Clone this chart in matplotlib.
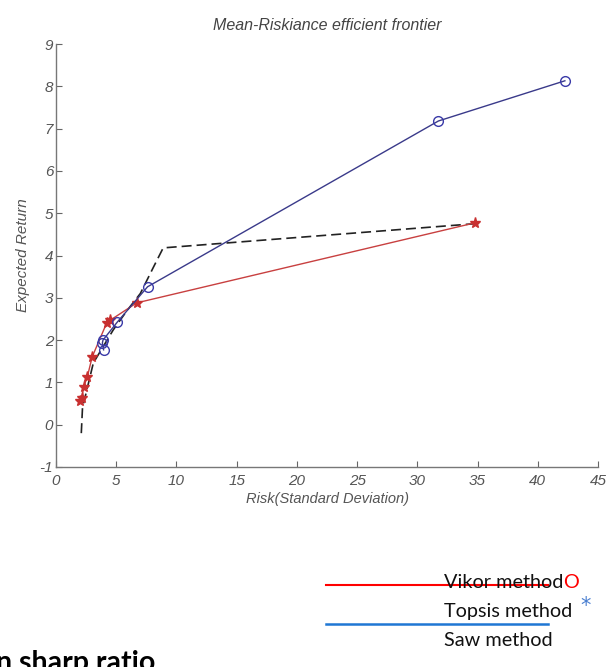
import matplotlib
matplotlib.use("Agg")
import matplotlib.pyplot as plt

# Data
blue_x = [3.95, 3.85, 3.9, 5.1, 7.6, 31.75, 42.25]
blue_y = [1.77, 1.93, 2.0, 2.43, 3.26, 7.18, 8.13]

red_x = [2.0, 2.15, 2.3, 2.6, 3.0, 4.2, 4.5, 6.7, 34.75]
red_y = [0.55, 0.63, 0.9, 1.13, 1.6, 2.4, 2.47, 2.88, 4.77]

black_x = [2.1, 2.2, 3.1, 4.75, 5.9, 7.0, 8.1, 8.9, 34.7]
black_y = [-0.2, 0.4, 1.46, 2.24, 2.7, 3.1, 3.73, 4.18, 4.75]

x_ticks = [0, 5, 10, 15, 20, 25, 30, 35, 40, 45]
y_ticks = [-1, 0, 1, 2, 3, 4, 5, 6, 7, 8, 9]

title = "Mean-Riskiance efficient frontier"
xlabel = "Risk(Standard Deviation)"
ylabel = "Expected Return"
legend_labels = ["Vikor method", "Topsis method", "Saw method"]
footer = "n sharp ratio"

fig = plt.figure(figsize=(6.06, 6.67), dpi=100)
ax = fig.add_axes([56/606, 1-467/667, (598-56)/606, (467-44)/667])

ax.plot(black_x, black_y, '--', color='#222222', lw=1.2, dashes=(6, 3))
ax.plot(red_x, red_y, '-', color='#c84040', lw=1.0, marker='*', ms=8,
        mfc='#c83030', mec='#c83030')
ax.plot(blue_x, blue_y, '-', color='#3a3a8a', lw=1.0, marker='o', ms=7,
        mfc='none', mec='#3a3aa8', mew=1.0)

ax.set_xlim(0, 45)
ax.set_ylim(-1, 9)
ax.set_xticks(x_ticks)
ax.set_yticks(y_ticks)
tick_fam = ['Liberation Sans Narrow', 'Liberation Sans']
tick_font = dict(family=tick_fam, style='italic', size=11, color='#555555')
ax.set_xticklabels([str(t) for t in x_ticks], **tick_font)
ax.set_yticklabels([str(t) for t in y_ticks], **tick_font)
ax.tick_params(direction='in', length=4, color='#666666', width=0.8)
ax.tick_params(axis='x', pad=5)
ax.tick_params(axis='y', pad=2)
for s in ['top', 'right']:
    ax.spines[s].set_visible(False)
for s in ['left', 'bottom']:
    ax.spines[s].set_color('#777777')
    ax.spines[s].set_linewidth(1.0)

ax.set_title(title, pad=10, family='Liberation Sans', style='italic', size=11.5, color='#444444')
ax.set_xlabel(xlabel, labelpad=3, family='Liberation Sans', style='italic', size=10.5, color='#555555')
ax.set_ylabel(ylabel, labelpad=7, family='Liberation Sans', style='italic', size=11, color='#555555')

# Legend-like annotations below
def fx(px): return px/606
def fy(py): return 1 - py/667

fig.add_artist(plt.Line2D([fx(326), fx(548)], [fy(585), fy(585)], color='#ff0000', lw=1.5))
fig.add_artist(plt.Line2D([fx(326), fx(548)], [fy(624), fy(624)], color='#1f77d4', lw=1.8))
leg_font = dict(family='Lato', size=14.3, color='#111111', va='baseline', ha='left')
fig.text(fx(444), fy(588), legend_labels[0], **leg_font)
fig.text(fx(563), fy(588), "O", family='Lato', size=14.3, color='#ff0000', va='baseline', ha='left')
fig.text(fx(444), fy(617), legend_labels[1], **leg_font)
fig.text(fx(586), fy(606), "*", family='DejaVu Sans', size=15, color='#4a7fd0', va='center', ha='center')
fig.text(fx(444), fy(646), legend_labels[2], **leg_font)

fig.text(fx(-4), fy(671), footer, family='Lato', weight='bold', size=20.5,
         color='#000000', va='baseline', ha='left')

fig.savefig("out.png", dpi=100)
